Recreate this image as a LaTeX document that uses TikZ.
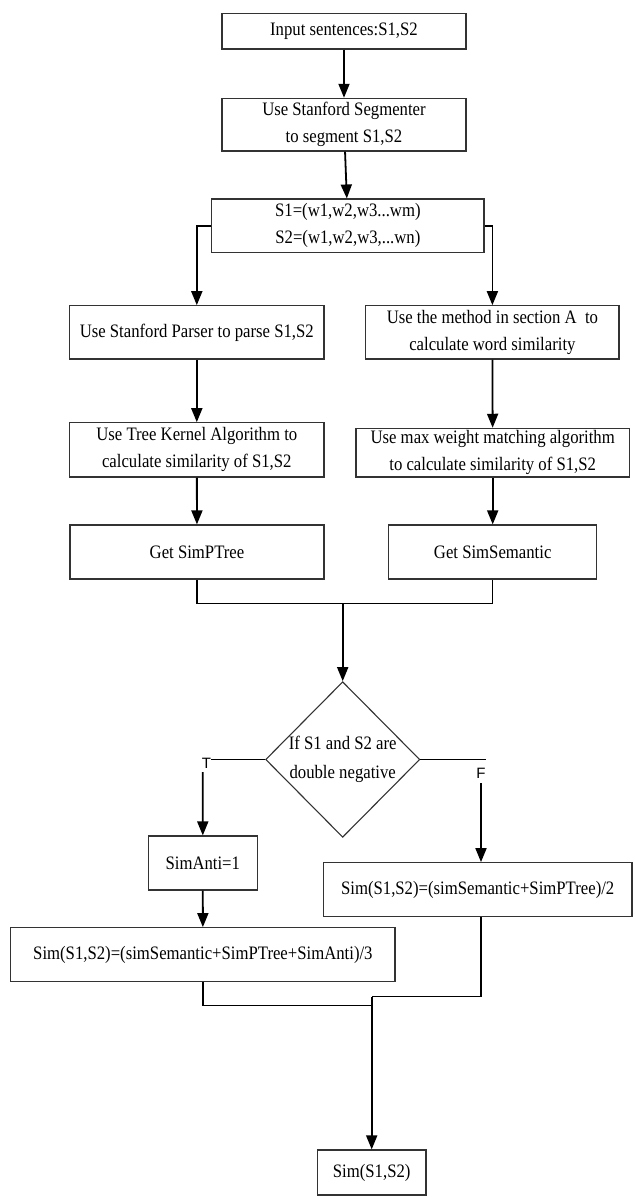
\documentclass[tikz,border=0pt]{standalone}
\usepackage{fontspec}
\setmainfont[FakeStretch=0.88]{Liberation Serif}
\newfontfamily\tffont{Liberation Sans}
\usetikzlibrary{arrows.meta}
\usetikzlibrary{shapes.geometric}
\tikzset{>={Triangle[length=14pt,width=11pt]}}
\tikzset{proc/.style={draw=black!80, line width=1.2pt, inner sep=0pt, align=center, font=\fontsize{19}{27}\selectfont}}
\tikzset{cond/.style={draw=black!80, line width=1.1pt, diamond, aspect=1, inner sep=0pt, align=center, font=\fontsize{19}{29}\selectfont}}
\tikzset{tf/.style={inner sep=0pt, font=\tffont\fontsize{15}{15}\selectfont}}
\tikzset{flow/.style={line width=1.8pt}}

\begin{document}
\begin{tikzpicture}[x=1pt, y=-1pt]
\useasboundingbox (0,0) rectangle (635,1197);

\node[proc, minimum width=244, minimum height=35.7] (in) at (344,31.2) {Input sentences:S1,S2};
\node[proc, minimum width=244, minimum height=52.7] (seg) at (344,124.7) {Use Stanford Segmenter\\to segment S1,S2};
\node[proc, minimum width=272.3, minimum height=53.7] (words) at (347.9,225.9) {S1=(w1,w2,w3...wm)\\S2=(w1,w2,w3,...wn)};

\node[proc, minimum width=254.4, minimum height=53.3] (parser) at (196.8,332.4) {Use Stanford Parser to parse S1,S2};
\node[proc, minimum width=253.3, minimum height=53.3] (method) at (492.4,332.4) {Use the method in section A~ to\\calculate word similarity};
\node[proc, minimum width=254.4, minimum height=54.3] (kernel) at (196.8,449.9) {Use Tree Kernel Algorithm to\\calculate similarity of S1,S2};
\node[proc, minimum width=273.5, minimum height=48.7] (maxw) at (492.7,452.7) {Use max weight matching algorithm\\to calculate similarity of S1,S2};
\node[proc, minimum width=254, minimum height=54] (ptree) at (197,552) {Get SimPTree};
\node[proc, minimum width=208, minimum height=54] (sem) at (492.7,552) {Get SimSemantic};

\node[cond, minimum width=153.3, minimum height=155.6] (dbl) at (342.7,759.5) {If S1 and S2 are\\double negative};
\node[tf] (T) at (206.5,763) {T};
\node[tf] (F) at (481,773) {F};

\node[proc, minimum width=109, minimum height=54] (anti) at (202.8,863) {SimAnti=1};
\node[proc, minimum width=384.3, minimum height=54] (avg3) at (202.9,954.7) {Sim(S1,S2)=(simSemantic+SimPTree+SimAnti)/3};
\node[proc, minimum width=308.7, minimum height=54] (avg2) at (477.7,889.7) {Sim(S1,S2)=(simSemantic+SimPTree)/2};
\node[proc, minimum width=108.7, minimum height=45] (res) at (371.7,1172.5) {Sim(S1,S2)};

\coordinate (j1) at (342.7,603.3);
\coordinate (j2) at (371.7,1005.7);
\coordinate (j3) at (371.7,996.7);
\coordinate (t0) at (202.7,772);
\coordinate (f0) at (481,783);

\draw[flow,->] (in) -- (seg);
\draw[flow,->] (seg) -- (words);
\draw[flow,->] (words.west) -| (parser.north);
\draw[flow,->] (words.east) -| (method.north);
\draw[flow,->] (parser) -- (kernel);
\draw[flow,->] (method) -- (maxw);
\draw[flow,->] (kernel) -- (ptree);
\draw[flow,->] (maxw) -- (sem);

\draw[line width=1.3pt] (ptree.south) |- (j1) -| (sem.south);
\draw[flow,->] (j1) -- (dbl.north);

\draw[line width=1.3pt] (dbl.west) -- (dbl.west -| T.east);
\draw[flow,->] (t0) -- (anti.north);
\draw[line width=1.3pt] (dbl.east) -- (dbl.east -| F.east);
\draw[flow,->] (f0) -- (f0 |- avg2.north);

\draw[flow,->] (anti) -- (avg3);
\draw[line width=1.3pt] (avg3.south) |- (j2);
\draw[line width=1.3pt] (f0 |- avg2.south) |- (j3);
\draw[flow,->] (j3) -- (res.north);
\end{tikzpicture}
\end{document}
